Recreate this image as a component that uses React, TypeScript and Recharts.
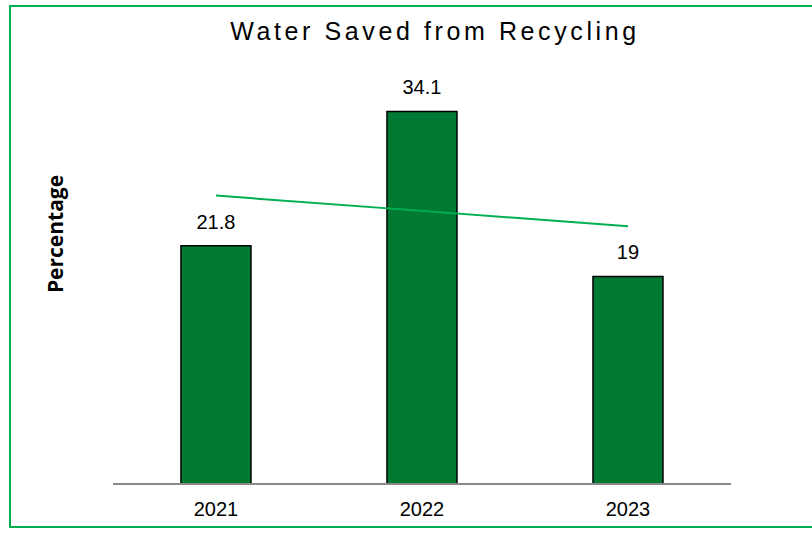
import React from "react";
import { ComposedChart, Bar, Line, XAxis, YAxis, LabelList } from "recharts";

const years = ["2021", "2022", "2023"];
const waterSaved = [21.8, 34.1, 19];
const trendValues = [26.4, 25.0, 23.6];

const data = years.map((y, i) => ({ year: y, value: waterSaved[i], trend: trendValues[i] }));

export default function App() {
  return (
    <div style={{ position: "absolute", left: 0, top: 0, width: 812, height: 533, overflow: "hidden", background: "#fff" }}>
      <div
        style={{
          position: "absolute",
          left: 9,
          top: 5,
          width: 830,
          height: 523,
          border: "2px solid #00B050",
          boxSizing: "border-box",
        }}
      />
      <div style={{ position: "absolute", left: 0, top: 0 }}>
        <ComposedChart
          width={812}
          height={533}
          data={data}
          margin={{ top: 47, right: 81, bottom: 19, left: 113 }}
          barCategoryGap="33%"
        >
          <XAxis
            dataKey="year"
            axisLine={{ stroke: "#898989", strokeWidth: 2 }}
            tickLine={false}
            tick={{ fontSize: 20, fill: "#000", fontFamily: "Liberation Sans, Arial, sans-serif" }}
            dy={10}
          />
          <YAxis hide domain={[0, 40]} />
          <Bar dataKey="value" fill="#007A33" stroke="#000" strokeWidth={1.5} isAnimationActive={false}>
            <LabelList
              dataKey="value"
              position="top"
              offset={17}
              style={{ fontSize: 20, fill: "#000", fontFamily: "Liberation Sans, Arial, sans-serif" }}
            />
          </Bar>
          <Line
            dataKey="trend"
            stroke="#00B050"
            strokeWidth={2}
            dot={false}
            activeDot={false}
            isAnimationActive={false}
          />
        </ComposedChart>
      </div>
      <svg style={{ position: "absolute", left: 0, top: 0 }} width={812} height={533} pointerEvents="none">
        <text
          x={435}
          y={40}
          textAnchor="middle"
          fontSize={25}
          letterSpacing={3.6}
          fontFamily="Liberation Sans, Arial, sans-serif"
          fill="#000"
        >
          Water Saved from Recycling
        </text>
        <text
          x={0}
          y={0}
          transform="translate(63, 234) rotate(-90)"
          textAnchor="middle"
          fontSize={21}
          fontWeight="bold"
          fontFamily="Open Sans, Noto Sans, sans-serif"
          fill="#000"
        >
          Percentage
        </text>
      </svg>
    </div>
  );
}
